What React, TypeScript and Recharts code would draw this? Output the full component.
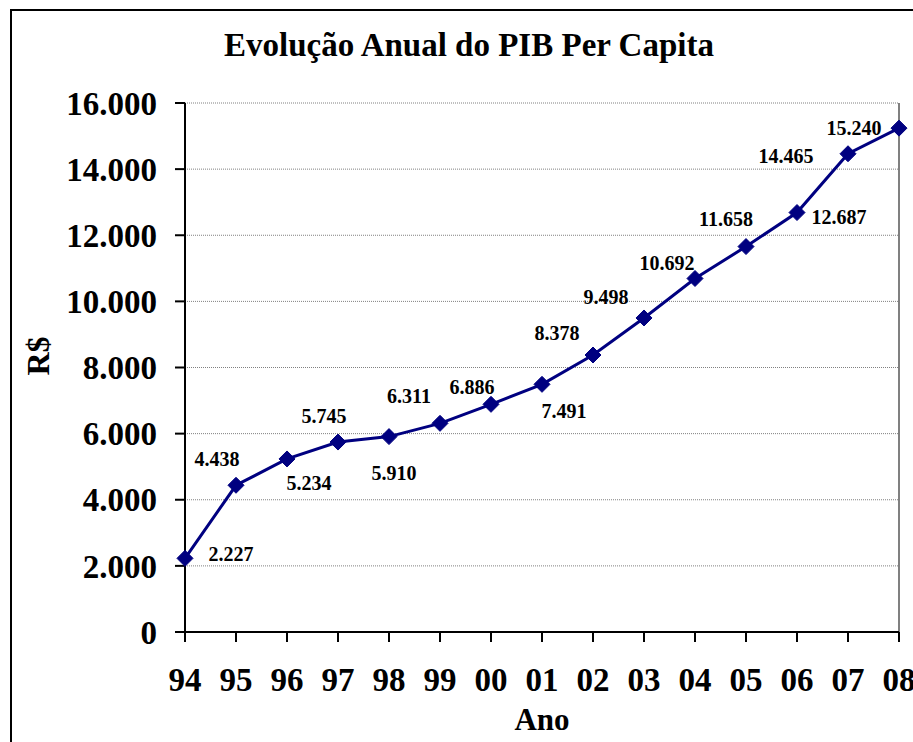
import React from 'react';
import { CartesianGrid, LabelList, Line, LineChart, ReferenceLine, XAxis, YAxis } from 'recharts';

const years = ['94', '95', '96', '97', '98', '99', '00', '01', '02', '03', '04', '05', '06', '07', '08'];
const pibPerCapita = [2227, 4438, 5234, 5745, 5910, 6311, 6886, 7491, 8378, 9498, 10692, 11658, 12687, 14465, 15240];
const yTicks = [0, 2000, 4000, 6000, 8000, 10000, 12000, 14000, 16000];

// deslocamento de cada rótulo em relação ao ponto [dx, dy]
const labelOffsets = [
  [46, -4], [-19, -26], [22, 24], [-14, -26], [5, 36], [-31, -27], [-19, -17], [22, 27],
  [-36, -22], [-38, -21], [-28, -15], [-20, -28], [42, 4], [-62, 2], [-45, 0],
];

const data = years.map((year, i) => ({ year, pib: pibPerCapita[i] }));

const FONT = '"Liberation Serif", "Times New Roman", Times, serif';
const NAVY = '#000080';

const fmt = (v: number) => String(v).replace(/\B(?=(\d{3})+(?!\d))/g, '.');

const Diamond = (props: any) => {
  const { cx, cy } = props;
  if (cx == null || cy == null) return null;
  const s = 8;
  return <polygon points={`${cx},${cy - s} ${cx + s},${cy} ${cx},${cy + s} ${cx - s},${cy}`} fill={NAVY} stroke={NAVY} />;
};

const PointLabel = (props: any) => {
  const { x, y, value, index } = props;
  const [dx, dy] = labelOffsets[index] || [0, -20];
  return (
    <text
      x={x + dx}
      y={y + dy}
      textAnchor="middle"
      dominantBaseline="central"
      fontFamily={FONT}
      fontWeight="bold"
      fontSize={20}
      fill="#000"
    >
      {fmt(value)}
    </text>
  );
};

export default function App() {
  return (
    <div style={{ position: 'fixed', left: 0, top: 0, width: 913, height: 742, background: '#fff', overflow: 'hidden' }}>
      <div
        style={{
          position: 'absolute',
          left: 10,
          top: 9,
          width: 1000,
          height: 1000,
          borderLeft: '2px solid #000',
          borderTop: '2px solid #000',
        }}
      />
      <div
        style={{
          position: 'absolute',
          left: 0,
          width: 938,
          top: 26,
          textAlign: 'center',
          fontFamily: FONT,
          fontWeight: 'bold',
          fontSize: 33,
          lineHeight: '38px',
        }}
      >
        Evolução Anual do PIB Per Capita
      </div>
      <div
        style={{
          position: 'absolute',
          left: 38,
          top: 356,
          transform: 'translate(-50%, -50%) rotate(-90deg)',
          fontFamily: FONT,
          fontWeight: 'bold',
          fontSize: 32,
          lineHeight: '38px',
          whiteSpace: 'nowrap',
        }}
      >
        R$
      </div>
      <div style={{ position: 'absolute', left: 0, top: 0 }}>
        <LineChart width={913} height={742} data={data} margin={{ top: 103, right: 14, bottom: 0, left: 0 }}>
          <CartesianGrid vertical={false} stroke="#808080" strokeDasharray="1 1" />
          <XAxis
            dataKey="year"
            height={110}
            stroke="#000"
            strokeWidth={2}
            tickSize={10}
            tickMargin={26}
            interval={0}
            tick={{ fontFamily: FONT, fontWeight: 'bold', fontSize: 33, fill: '#000' }}
            label={{ value: 'Ano', position: 'insideBottom', offset: 12, fontFamily: FONT, fontWeight: 'bold', fontSize: 31, fill: '#000' }}
          />
          <YAxis
            width={185}
            domain={[0, 16000]}
            ticks={yTicks}
            stroke="#000"
            strokeWidth={2}
            tickSize={10}
            tickMargin={18}
            tickFormatter={fmt}
            tick={{ fontFamily: FONT, fontWeight: 'bold', fontSize: 33, fill: '#000' }}
          />
          <ReferenceLine x="08" stroke="#808080" strokeWidth={2} />
          <Line
            dataKey="pib"
            stroke={NAVY}
            strokeWidth={3}
            dot={<Diamond />}
            activeDot={false}
            isAnimationActive={false}
          >
            <LabelList dataKey="pib" content={<PointLabel />} />
          </Line>
        </LineChart>
      </div>
    </div>
  );
}
